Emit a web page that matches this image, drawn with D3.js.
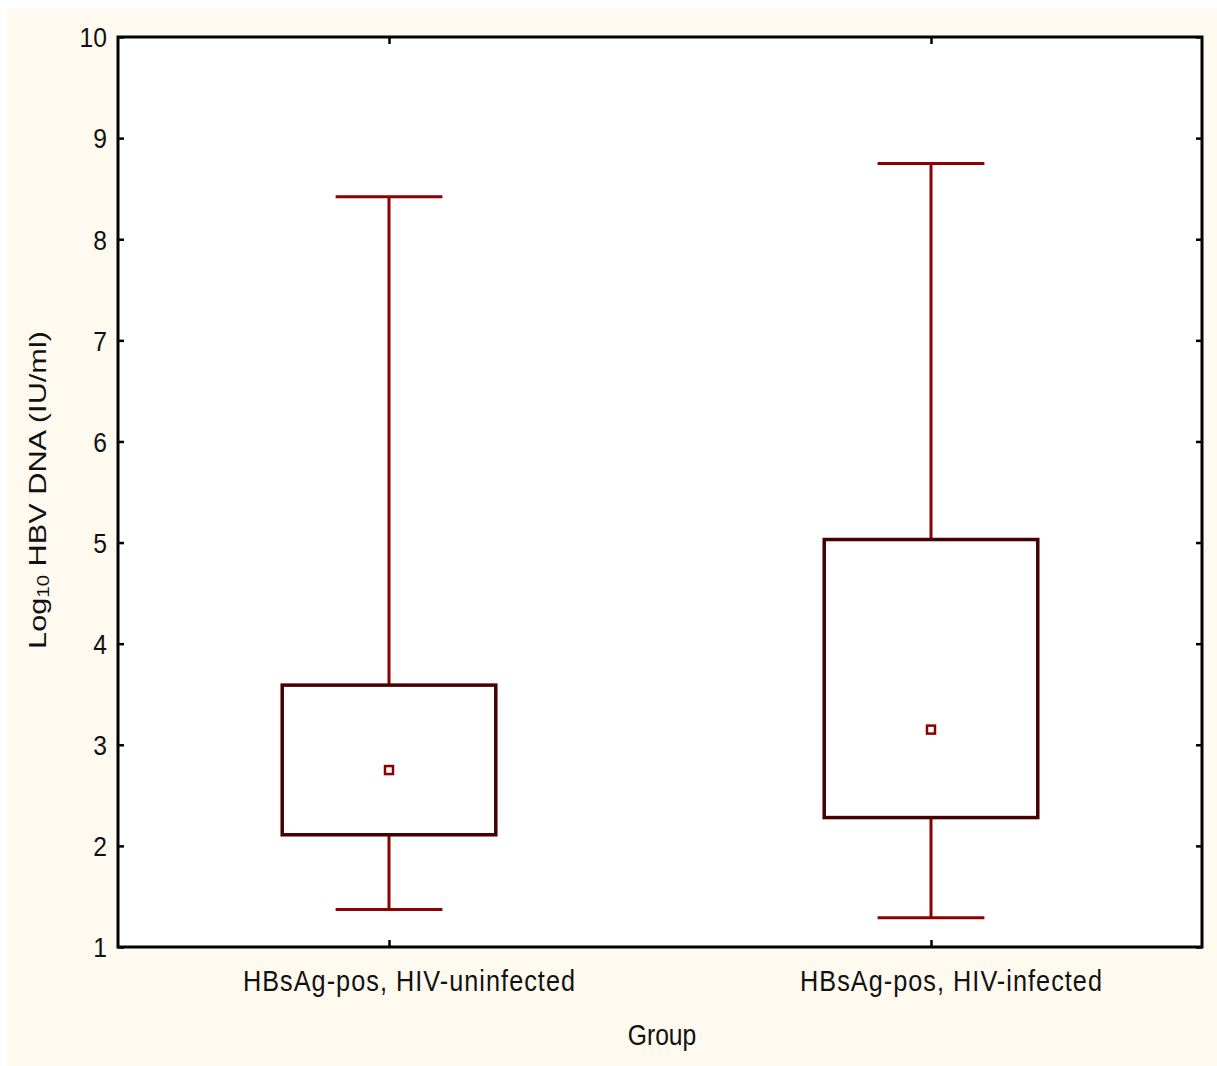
<!DOCTYPE html>
<html>
<head>
<meta charset="utf-8">
<script src="https://cdn.jsdelivr.net/npm/d3@7"></script>
<style>
body{margin:0;background:#fff;}
text{font-family:"Liberation Sans",Arial,sans-serif;fill:#111;}
</style>
</head>
<body>
<svg id="chart" width="1217" height="1066"></svg>
<script>
// data
var groups = ["HBsAg-pos, HIV-uninfected", "HBsAg-pos, HIV-infected"];
var medians = [2.75, 3.15];
var q1 = [2.11, 2.28];
var q3 = [3.59, 5.03];
var mins = [1.37, 1.29];
var maxs = [8.42, 8.75];
var yTicks = [1, 2, 3, 4, 5, 6, 7, 8, 9, 10];

var svg = d3.select("#chart");
var W = 1217, H = 1066;
var m = {left:118, right:15, top:37, bottom:119};

svg.append("rect").attr("x",7).attr("y",8).attr("width",W-7).attr("height",H-8)
  .attr("fill","#fffaf0");

var x = d3.scalePoint().domain(groups).range([m.left, W-m.right]).padding(0.5);
var y = d3.scaleLinear().domain([1,10]).range([H-m.bottom, m.top]);

var pw = W-m.right-m.left;
svg.append("rect").attr("x",m.left).attr("y",m.top).attr("width",pw).attr("height",H-m.bottom-m.top)
  .attr("fill","#fff");

var boxW = pw*0.197;
var capW = boxW*0.5;

var data = groups.map(function(g,i){
  return {g:g, med:medians[i], lo:q1[i], hi:q3[i], mn:mins[i], mx:maxs[i]};
});

var b = svg.append("g").selectAll("g").data(data).enter().append("g");
// whiskers
b.append("line").attr("x1",function(d){return x(d.g);}).attr("x2",function(d){return x(d.g);})
  .attr("y1",function(d){return y(d.mx);}).attr("y2",function(d){return y(d.hi);})
  .attr("stroke","#8b0000").attr("stroke-width",3);
b.append("line").attr("x1",function(d){return x(d.g);}).attr("x2",function(d){return x(d.g);})
  .attr("y1",function(d){return y(d.lo);}).attr("y2",function(d){return y(d.mn);})
  .attr("stroke","#8b0000").attr("stroke-width",3);
b.append("line").attr("x1",function(d){return x(d.g)-capW/2;}).attr("x2",function(d){return x(d.g)+capW/2;})
  .attr("y1",function(d){return y(d.mx);}).attr("y2",function(d){return y(d.mx);})
  .attr("stroke","#8b0000").attr("stroke-width",3);
b.append("line").attr("x1",function(d){return x(d.g)-capW/2;}).attr("x2",function(d){return x(d.g)+capW/2;})
  .attr("y1",function(d){return y(d.mn);}).attr("y2",function(d){return y(d.mn);})
  .attr("stroke","#8b0000").attr("stroke-width",3);
// boxes
b.append("rect").attr("x",function(d){return x(d.g)-boxW/2;}).attr("width",boxW)
  .attr("y",function(d){return y(d.hi);}).attr("height",function(d){return y(d.lo)-y(d.hi);})
  .attr("fill","#fff").attr("stroke","#450000").attr("stroke-width",3.5);
// median markers
b.append("rect").attr("x",function(d){return x(d.g)-4;}).attr("y",function(d){return y(d.med)-4;})
  .attr("width",8).attr("height",8).attr("fill","#fff").attr("stroke","#8b0000").attr("stroke-width",2.5);

// axes
var gl = svg.append("g").attr("transform","translate("+m.left+",0)")
  .call(d3.axisLeft(y).tickValues(yTicks).tickSize(-6).tickPadding(11));
var gr = svg.append("g").attr("transform","translate("+(W-m.right)+",0)")
  .call(d3.axisRight(y).tickValues(yTicks).tickSize(-6).tickFormat(""));
var gb = svg.append("g").attr("transform","translate(0,"+(H-m.bottom)+")")
  .call(d3.axisBottom(x).tickSize(-7));
var gt = svg.append("g").attr("transform","translate(0,"+m.top+")")
  .call(d3.axisTop(x).tickSize(-7).tickFormat(""));
[gl,gr,gb,gt].forEach(function(g){
  g.select(".domain").remove();
  g.selectAll(".tick line").attr("stroke","#000").attr("stroke-width",2.5);
});
// the original text is drawn tall and narrow
gl.selectAll(".tick text").attr("font-size",28).attr("fill","#111").attr("dy","0.35em")
  .attr("transform","scale(0.88,1)").attr("x",-11/0.88);
gb.selectAll(".tick text").attr("font-size",29).attr("fill","#111").attr("y",44).attr("dy",0)
  .attr("letter-spacing","1.2px").attr("transform","scale(0.87,1)").attr("x",20/0.87);

svg.append("rect").attr("x",m.left).attr("y",m.top).attr("width",pw).attr("height",H-m.bottom-m.top)
  .attr("fill","none").attr("stroke","#000").attr("stroke-width",3);

// axis titles
svg.append("text").attr("transform","translate(662,1045) scale(0.85,1)")
  .attr("text-anchor","middle").attr("font-size",29).text("Group");
var yl = svg.append("text").attr("transform","translate(46,490) rotate(-90) scale(1.28,1)")
  .attr("text-anchor","middle").attr("font-size",24);
yl.append("tspan").text("Log");
yl.append("tspan").attr("font-size",16).attr("dy",3).text("10");
yl.append("tspan").attr("dy",-3).text(" HBV DNA (IU/ml)");
</script>
</body>
</html>
